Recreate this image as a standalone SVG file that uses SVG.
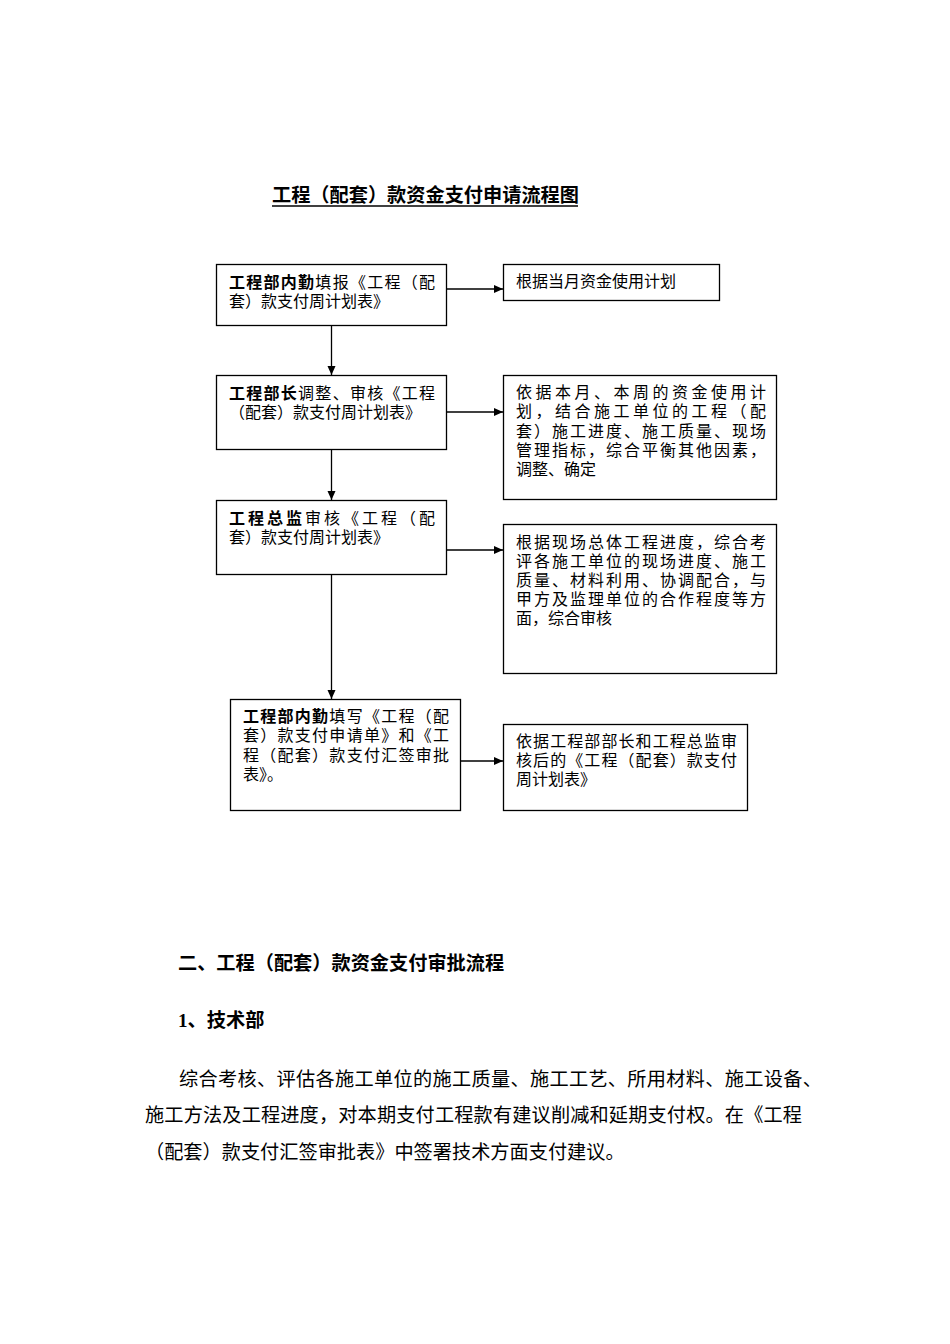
<svg xmlns="http://www.w3.org/2000/svg" width="950" height="1344" viewBox="0 0 950 1344">
<style>
text{font-family:"Noto Sans CJK SC","Liberation Sans",sans-serif;fill:#000}
.t{font-size:16px}
.b{font-weight:bold}
.p{font-size:19.2px}
.box{fill:#fff;stroke:#000;stroke-width:1.3}
.conn line{stroke:#000;stroke-width:1.3;fill:none}
</style>
<defs>
<marker id="ah" markerWidth="10" markerHeight="10" refX="9" refY="5" orient="auto" markerUnits="userSpaceOnUse">
<path d="M0,1 L9,5 L0,9 Z" fill="#000"/>
</marker>
</defs>
<rect width="950" height="1344" fill="#fff"/>

<g id="title">
<text class="p b" x="272" y="202">工程（配套）款资金支付申请流程图</text>
<line x1="272" y1="206" x2="578" y2="206" stroke="#000" stroke-width="1.3"/>
</g>

<g class="conn" id="connectors">
<line x1="331.5" y1="325" x2="331.5" y2="375" marker-end="url(#ah)"/>
<line x1="331.5" y1="450" x2="331.5" y2="500" marker-end="url(#ah)"/>
<line x1="331.5" y1="575" x2="331.5" y2="699" marker-end="url(#ah)"/>
<line x1="446" y1="289" x2="503" y2="289" marker-end="url(#ah)"/>
<line x1="446" y1="412" x2="503" y2="412" marker-end="url(#ah)"/>
<line x1="446" y1="550" x2="503" y2="550" marker-end="url(#ah)"/>
<line x1="461" y1="761" x2="503" y2="761" marker-end="url(#ah)"/>
</g>

<g id="node1">
<rect class="box" x="216.5" y="264.5" width="230" height="61"/>
<text class="t" x="229" y="288" textLength="206" lengthAdjust="spacing"><tspan class="b">工程部内勤</tspan>填报《工程（配</text>
<text class="t" x="229" y="307">套）款支付周计划表》</text>
</g>

<g id="note1">
<rect class="box" x="503.5" y="264.5" width="216" height="36"/>
<text class="t" x="516" y="287">根据当月资金使用计划</text>
</g>

<g id="node2">
<rect class="box" x="216.5" y="375.5" width="230" height="74"/>
<text class="t" x="229" y="399" textLength="206" lengthAdjust="spacing"><tspan class="b">工程部长</tspan>调整、审核《工程</text>
<text class="t" x="229" y="418">（配套）款支付周计划表》</text>
</g>

<g id="note2">
<rect class="box" x="503.5" y="375.5" width="273" height="124"/>
<text class="t" x="516" y="398" textLength="250" lengthAdjust="spacing">依据本月、本周的资金使用计</text>
<text class="t" x="516" y="417" textLength="250" lengthAdjust="spacing">划，结合施工单位的工程（配</text>
<text class="t" x="516" y="437" textLength="250" lengthAdjust="spacing">套）施工进度、施工质量、现场</text>
<text class="t" x="516" y="456" textLength="250" lengthAdjust="spacing">管理指标，综合平衡其他因素，</text>
<text class="t" x="516" y="475">调整、确定</text>
</g>

<g id="node3">
<rect class="box" x="216.5" y="500.5" width="230" height="74"/>
<text class="t" x="229" y="524" textLength="206" lengthAdjust="spacing"><tspan class="b">工程总监</tspan>审核《工程（配</text>
<text class="t" x="229" y="543">套）款支付周计划表》</text>
</g>

<g id="note3">
<rect class="box" x="503.5" y="524.5" width="273" height="149"/>
<text class="t" x="516" y="548" textLength="250" lengthAdjust="spacing">根据现场总体工程进度，综合考</text>
<text class="t" x="516" y="567" textLength="250" lengthAdjust="spacing">评各施工单位的现场进度、施工</text>
<text class="t" x="516" y="586" textLength="250" lengthAdjust="spacing">质量、材料利用、协调配合，与</text>
<text class="t" x="516" y="605" textLength="250" lengthAdjust="spacing">甲方及监理单位的合作程度等方</text>
<text class="t" x="516" y="624">面，综合审核</text>
</g>

<g id="node4">
<rect class="box" x="230.5" y="699.5" width="230" height="111"/>
<text class="t" x="243" y="722" textLength="206" lengthAdjust="spacing"><tspan class="b">工程部内勤</tspan>填写《工程（配</text>
<text class="t" x="243" y="741" textLength="206" lengthAdjust="spacing">套）款支付申请单》和《工</text>
<text class="t" x="243" y="761" textLength="206" lengthAdjust="spacing">程（配套）款支付汇签审批</text>
<text class="t" x="243" y="780">表》。</text>
</g>

<g id="note4">
<rect class="box" x="503.5" y="724.5" width="244" height="86"/>
<text class="t" x="516" y="747" textLength="221" lengthAdjust="spacing">依据工程部部长和工程总监审</text>
<text class="t" x="516" y="766" textLength="221" lengthAdjust="spacing">核后的《工程（配套）款支付</text>
<text class="t" x="516" y="785">周计划表》</text>
</g>

<g id="section2">
<text class="p b" x="178" y="970">二、工程（配套）款资金支付审批流程</text>
<text class="p b" x="178" y="1027"><tspan style="font-family:'Liberation Serif',serif">1</tspan>、技术部</text>
<text class="p" x="179" y="1086" textLength="643" lengthAdjust="spacing">综合考核、评估各施工单位的施工质量、施工工艺、所用材料、施工设备、</text>
<text class="p" x="145" y="1122" textLength="657" lengthAdjust="spacing">施工方法及工程进度，对本期支付工程款有建议削减和延期支付权。在《工程</text>
<text class="p" x="145" y="1159">（配套）款支付汇签审批表》中签署技术方面支付建议。</text>
</g>
</svg>
